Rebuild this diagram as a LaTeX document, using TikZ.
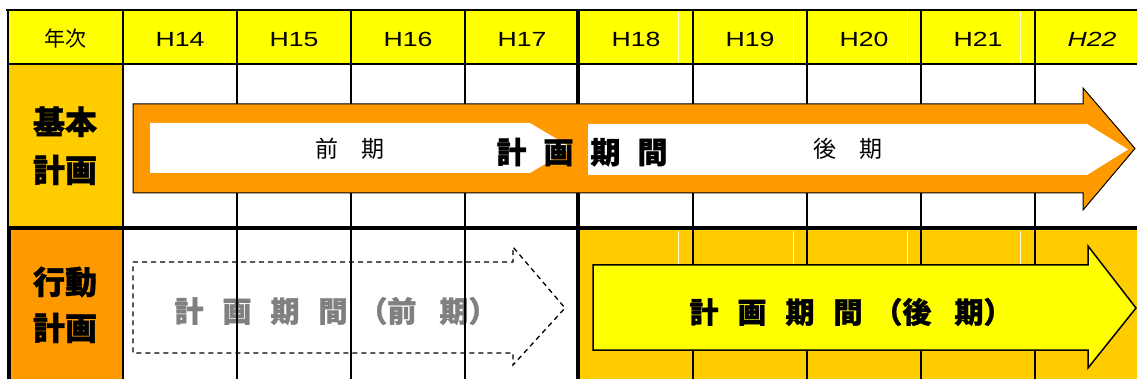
\documentclass[tikz,border=0pt]{standalone}
\usepackage{fontspec}
\newfontfamily\jp{Noto Sans CJK JP}[BoldFeatures={FakeBold=1.2}]
\newfontfamily\hd{Liberation Sans}[FakeStretch=1.3]
\definecolor{hdrY}{HTML}{FFFF00}
\definecolor{gold}{HTML}{FFCC00}
\definecolor{orng}{HTML}{FF9900}
\definecolor{txtgray}{HTML}{808080}
\definecolor{faint}{HTML}{FFFFD8}
\newcommand\gp{\hspace{17pt}}
\newcommand\gq{\hspace{19pt}}
\newcommand\gr{\hspace{23pt}}
\begin{document}
\begin{tikzpicture}[x=1pt,y=-1pt,
  thinline/.style={line width=2pt},
  thickline/.style={line width=4.5pt},
  faintline/.style={line width=0.4pt,draw=faint},
  yearlbl/.style={inner sep=0pt,anchor=base,font=\hd\fontsize{20.5}{20}\selectfont},
  rowlbl/.style={inner sep=0pt,anchor=base,font=\jp\bfseries\fontsize{32}{32}\selectfont},
  small/.style={inner sep=0pt,anchor=base,font=\jp\fontsize{23}{23}\selectfont},
  big/.style={inner sep=0pt,anchor=base,font=\jp\bfseries\fontsize{30}{30}\selectfont},
  mid/.style={inner sep=0pt,anchor=base,font=\jp\bfseries\fontsize{29}{29}\selectfont}]
\useasboundingbox (0,0) rectangle (1137,379);
% cell fills
\fill[hdrY] (8,10) rectangle (1150,64);
\fill[gold] (8,64) rectangle (123,228);
\fill[orng] (8,228) rectangle (123,390);
\fill[gold] (578,228) rectangle (1150,390);
% faint separators
\foreach \x in {678,793,907,1020}{
  \draw[faintline] (\x,12) -- (\x,62);
  \draw[faintline] (\x,231) -- (\x,264);
}
% header texts
\node[inner sep=0pt,anchor=base,font=\jp\fontsize{21}{21}\selectfont] (nen) at (65,46.5) {年次};
\node[yearlbl] (h14) at (180,47) {H14};
\node[yearlbl] (h15) at (294,47) {H15};
\node[yearlbl] (h16) at (408,47) {H16};
\node[yearlbl] (h17) at (522,47) {H17};
\node[yearlbl] (h18) at (636,47) {H18};
\node[yearlbl] (h19) at (750,47) {H19};
\node[yearlbl] (h20) at (864,47) {H20};
\node[yearlbl] (h21) at (978,47) {H21};
\node[yearlbl,font=\hd\itshape\fontsize{20.5}{20}\selectfont] (h22) at (1092,47) {H22};
% gray text of the earlier action plan
\node[mid,text=txtgray] (zenki2) at (336,322) {計\gq 画\gq 期\gq 間\hspace{11pt}（前\gr 期）};
% grid
\draw[thinline] (6,10) -- (1150,10);
\draw[thinline] (8,64) -- (1150,64);
\draw[thinline] (8,10) -- (8,228);
\foreach \x in {123,237,351,465,693,807,921,1035}{
  \draw[thinline] (\x,10) -- (\x,390);
}
\draw[thickline] (578,9) -- (578,390);
\draw[thickline] (6.5,228) -- (1150,228);
\draw[thickline] (9,228) -- (9,390);
% orange master arrow
\draw[fill=orng,line width=1pt] (133,104) -- (1083,104) -- (1083,88) -- (1135,148.5) -- (1083,210) -- (1083,193) -- (133,193) -- cycle;
\fill[white] (150,123) -- (530,123) -- (572,148) -- (530,173) -- (150,173) -- cycle;
\fill[white] (588,124) -- (1087,124) -- (1128,149.5) -- (1087,175) -- (588,175) -- cycle;
\node[small] (zenki) at (350,157.7) {前　期};
\node[small] (kouki) at (848,157.7) {後　期};
\node[big] (keikaku) at (582,163.4) {計\gp 画\gp 期\gp 間};
% dashed arrow (earlier period)
\draw[dash pattern=on 5pt off 4pt,line width=1.3pt] (133,262) -- (513,262) -- (513,247) -- (565,308) -- (513,365) -- (513,353) -- (133,353) -- cycle;
% yellow arrow (later period)
\draw[fill=hdrY,line width=1.5pt] (593,265) -- (1088,265) -- (1088,246) -- (1136,308) -- (1088,368) -- (1088,350) -- (593,350) -- cycle;
\node[mid] (kouki2) at (851,323) {計\gq 画\gq 期\gq 間\hspace{11pt}（後\gr 期）};
% row labels
\node[rowlbl] (kihon1) at (65,134) {基本};
\node[rowlbl] (kihon2) at (65,182) {計画};
\node[rowlbl] (koudou1) at (65,294) {行動};
\node[rowlbl] (koudou2) at (65,340) {計画};
\end{tikzpicture}
\end{document}
